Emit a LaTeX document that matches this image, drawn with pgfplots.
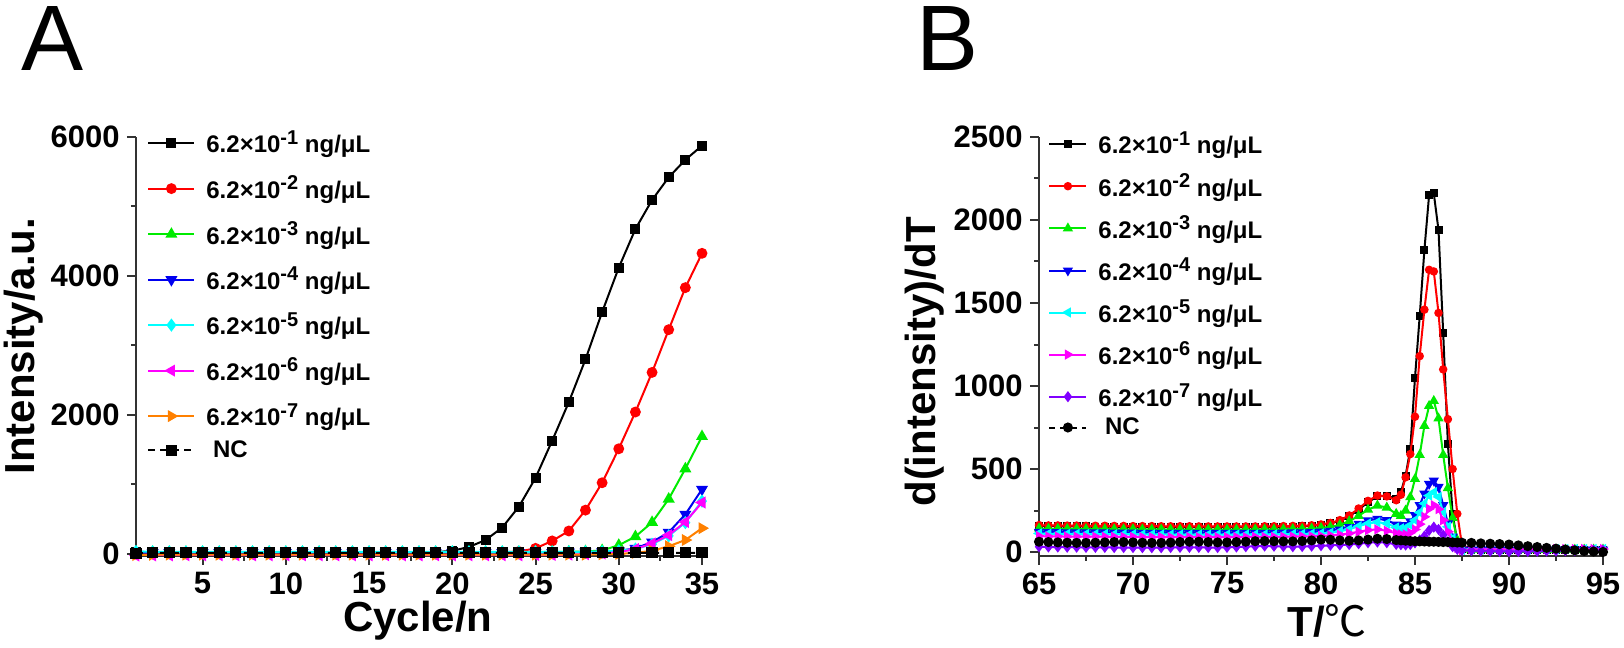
\documentclass[border=0pt]{standalone}
\usepackage{fontspec}
\setmainfont{Liberation Sans}
\newfontfamily\cjk{Noto Sans CJK SC}
\usepackage{pgfplots}
\usepackage{pgfplotstable}
\pgfplotsset{compat=1.18}
\definecolor{cgreen}{RGB}{0,235,0}
\definecolor{cblue}{RGB}{0,0,240}
\definecolor{ccyan}{RGB}{0,255,255}
\definecolor{cmag}{RGB}{255,0,255}
\definecolor{corange}{RGB}{255,128,0}
\definecolor{cviolet}{RGB}{128,0,255}
\newcommand\sups[1]{\raisebox{0.36em}{\fontsize{10}{10}\selectfont #1}}
\newcommand\conc[1]{6.2×10\sups{-#1} ng/μL}
\newcommand\nclab{\raisebox{-0.36em}[0pt][0pt]{\ NC}}

\pgfplotstableread{
c s1 s2 s3 s4 s5 s6 s7 nc
1 30 15 25 20 35 -25 -15 10
2 25 15 25 20 30 -22 -12 15
3 22 15 25 20 30 -20 -10 15
4 20 15 25 20 30 -20 -10 15
5 20 15 25 20 30 -20 -10 15
6 20 15 25 20 30 -20 -10 15
7 20 15 25 20 30 -20 -10 15
8 20 15 25 20 30 -20 -10 15
9 20 15 25 20 30 -20 -10 15
10 20 15 25 20 30 -20 -10 15
11 20 15 25 20 30 -20 -10 15
12 20 15 25 20 30 -20 -10 15
13 20 15 25 20 30 -20 -10 15
14 20 15 25 20 30 -20 -10 15
15 20 15 25 20 30 -20 -10 15
16 20 15 25 20 30 -20 -10 15
17 20 15 25 20 30 -20 -10 15
18 22 15 25 20 30 -20 -10 15
19 25 15 25 20 30 -20 -10 15
20 45 15 25 20 30 -20 -10 15
21 100 15 25 20 30 -20 -10 15
22 200 20 25 20 30 -20 -10 15
23 380 25 25 20 30 -20 -10 15
24 680 35 25 20 30 -20 -10 15
25 1094 80 25 20 30 -15 -10 15
26 1629 187 30 20 30 -15 -10 15
27 2184 330 30 25 30 -10 -10 15
28 2799 630 35 25 30 -5 -10 15
29 3480 1024 50 30 35 5 -5 15
30 4120 1513 125 45 45 25 0 15
31 4675 2042 250 80 70 70 15 15
32 5093 2612 454 170 140 150 45 15
33 5420 3227 790 310 260 270 110 15
34 5672 3832 1225 570 450 460 200 15
35 5875 4326 1690 930 760 740 370 15
}\tabA

\pgfplotstableread{
T s1 s2 s3 s4 s5 s6 s7 nc
65 158 162 142 122 112 96 32 62
65.5 156 160 140 120 110 94 30 60
66 155 160 140 120 110 94 30 58
66.5 155 159 139 119 109 93 29 56
67 154 159 139 119 109 93 29 55
67.5 154 158 138 118 108 92 28 55
68 153 158 138 118 108 92 28 56
68.5 153 158 138 118 108 92 28 58
69 152 157 137 117 107 91 27 60
69.5 152 157 137 117 107 91 27 60
70 152 156 137 117 107 91 27 58
70.5 151 156 136 116 106 90 26 56
71 151 156 136 116 106 90 26 55
71.5 151 155 136 116 106 90 26 55
72 150 155 135 115 105 90 27 57
72.5 150 155 135 115 105 90 28 60
73 150 155 135 115 105 90 28 62
73.5 150 154 135 115 105 90 28 62
74 150 154 135 115 105 90 27 60
74.5 150 154 135 115 105 90 27 58
75 150 154 135 115 105 90 28 58
75.5 150 154 135 115 105 90 30 60
76 150 154 135 115 105 90 32 62
76.5 150 154 136 116 106 91 35 65
77 151 155 136 116 106 91 36 66
77.5 151 155 136 116 106 91 35 65
78 152 156 137 117 107 92 33 64
78.5 153 157 138 118 108 93 32 64
79 155 158 139 119 109 94 33 66
79.5 158 161 141 120 110 95 35 70
80 163 166 145 123 112 97 38 75
80.5 172 175 151 127 116 100 40 74
81 188 192 163 135 124 105 42 70
81.5 215 220 185 150 137 112 45 68
82 255 262 218 170 155 122 50 70
82.5 300 308 255 190 172 132 56 75
83 335 340 280 200 180 136 60 80
83.5 340 335 268 192 172 128 56 78
84 320 312 230 165 148 112 46 72
84.25 360 345 218 158 142 106 44 70
84.5 460 450 250 162 144 106 42 68
84.75 620 590 330 185 162 116 45 66
85 1050 815 440 222 192 136 55 65
85.25 1420 1180 585 282 238 168 72 64
85.5 1820 1460 760 352 292 212 96 63
85.75 2150 1700 880 410 340 260 130 62
86 2160 1690 910 430 360 282 150 62
86.25 1940 1440 805 392 332 258 136 61
86.5 1320 1100 585 282 242 192 102 60
86.75 650 800 385 172 152 122 62 60
87 230 500 205 92 82 62 32 58
87.25 60 230 72 36 32 26 16 57
87.5 20 40 20 15 13 11 10 56
88 15 15 15 15 16 16 8 55
88.5 14 14 14 14 16 16 6 52
89 14 14 14 14 16 16 5 50
89.5 14 14 14 14 16 16 4 48
90 13 13 13 13 16 16 3 45
90.5 13 13 13 13 16 16 3 40
91 13 13 13 13 16 17 4 35
91.5 13 13 13 13 17 17 5 30
92 13 13 13 13 17 17 6 25
92.5 14 14 14 14 17 18 7 20
93 14 14 14 14 18 18 8 15
93.5 14 14 14 14 18 18 9 10
94 15 15 15 15 18 18 10 6
94.5 15 15 15 15 18 18 10 3
95 15 15 15 15 18 18 10 0
}\tabB

\pgfplotsset{
  myaxis/.style={
    scale only axis, height=209.5pt,
    axis x line=bottom, axis y line=left,
    axis line style={-, line width=1pt, black!80},
    tick align=outside, major tick length=4.5pt, minor tick length=2.5pt,
    every tick/.style={line width=1pt, black!80},
    minor tick num=1,
    tick label style={font=\bfseries\fontsize{15.5}{16}\selectfont, inner sep=3.5pt},
    /pgf/number format/assume math mode=true,
    /pgf/number format/set thousands separator={},
    label style={font=\bfseries\fontsize{21}{22}\selectfont},
    legend cell align=left,
    clip mode=individual,
  },
  legA/.style={legend image code/.code={\draw[mark repeat=2,mark phase=2,##1] plot coordinates {(0pt,0pt) (11.5pt,0pt) (23pt,0pt)};}},
  legB/.style={legend image code/.code={\draw[mark repeat=2,mark phase=2,##1] plot coordinates {(0pt,0pt) (9.25pt,0pt) (18.5pt,0pt)};}},
}

\begin{document}
\begin{tikzpicture}
\begin{pgfinterruptboundingbox}
\node[inner sep=0pt, font=\fontsize{46.5}{46.5}\selectfont] at (26.5pt,304.5pt) {A};
\node[inner sep=0pt, font=\fontsize{46.5}{46.5}\selectfont] at (473.75pt,304.5pt) {B};

\begin{axis}[myaxis, legA,
  at={(68pt,46pt)}, anchor=south west, width=283pt,
  xmin=1, xmax=35, ymin=-30, ymax=6000,
  xtick={5,10,...,35}, ytick={0,2000,4000,6000},
  xlabel={Cycle/n}, ylabel={Intensity/a.u.},
  xlabel style={at={(rel axis cs:0.498,-0.181)}, anchor=base},
  ylabel style={at={(rel axis cs:-0.199,0.501)}, anchor=center},
  legend style={at={(rel axis cs:0,1)}, anchor=north west, xshift=5.5pt, yshift=5.5pt,
    draw=none, fill=none, inner sep=0pt,
    font=\bfseries\fontsize{12}{12.5}\selectfont, row sep=6pt, column sep=3.5pt},
]
\addplot[black, line width=1pt, mark=square*, mark size=2pt] table[x=c,y=s1] {\tabA};
\addplot[red, line width=1pt, mark=*, mark size=2.2pt] table[x=c,y=s2] {\tabA};
\addplot[cgreen, line width=1pt, mark=triangle*, mark size=2.5pt] table[x=c,y=s3] {\tabA};
\addplot[cblue, line width=1pt, mark=triangle*, mark size=2.5pt, mark options={rotate=180}] table[x=c,y=s4] {\tabA};
\addplot[ccyan, line width=1pt, mark=diamond*, mark size=2.5pt] table[x=c,y=s5] {\tabA};
\addplot[cmag, line width=1pt, mark=triangle*, mark size=2.5pt, mark options={rotate=90}] table[x=c,y=s6] {\tabA};
\addplot[corange, line width=1pt, mark=triangle*, mark size=2.5pt, mark options={rotate=-90}] table[x=c,y=s7] {\tabA};
\addplot[black, line width=1pt, dash pattern=on 3.5pt off 2.5pt, mark=square*, mark size=2.3pt, mark options={solid}] table[x=c,y=nc] {\tabA};
\legend{\conc{1}, \conc{2}, \conc{3}, \conc{4}, \conc{5}, \conc{6}, \conc{7}, \nclab}
\end{axis}

\begin{axis}[myaxis, legB,
  at={(519.5pt,46pt)}, anchor=south west, width=282pt,
  xmin=65, xmax=95, ymin=-24, ymax=2500,
  xtick={65,70,...,95}, ytick={0,500,...,2500},
  xlabel={T/{\cjk\mdseries ℃}}, ylabel={d(intensity)/dT},
  xlabel style={at={(rel axis cs:0.511,-0.193)}, anchor=base},
  ylabel style={at={(rel axis cs:-0.202,0.463)}, anchor=center},
  legend style={at={(rel axis cs:0,1)}, anchor=north west, xshift=4.5pt, yshift=5pt,
    draw=none, fill=none, inner sep=0pt,
    font=\bfseries\fontsize{12}{12.5}\selectfont, row sep=4.3pt, column sep=3.5pt},
]
\addplot[black, line width=1pt, mark=square*, mark size=1.5pt] table[x=T,y=s1] {\tabB};
\addplot[red, line width=1pt, mark=*, mark size=1.6pt] table[x=T,y=s2] {\tabB};
\addplot[cgreen, line width=1pt, mark=triangle*, mark size=2pt] table[x=T,y=s3] {\tabB};
\addplot[cblue, line width=1pt, mark=triangle*, mark size=2pt, mark options={rotate=180}] table[x=T,y=s4] {\tabB};
\addplot[ccyan, line width=1pt, mark=triangle*, mark size=2pt, mark options={rotate=90}] table[x=T,y=s5] {\tabB};
\addplot[cmag, line width=1pt, mark=triangle*, mark size=2pt, mark options={rotate=-90}] table[x=T,y=s6] {\tabB};
\addplot[cviolet, line width=1pt, mark=diamond*, mark size=2pt] table[x=T,y=s7] {\tabB};
\addplot[black, line width=1pt, dash pattern=on 3pt off 2.5pt, mark=*, mark size=2pt, mark options={solid}] table[x=T,y=nc] {\tabB};
\legend{\conc{1}, \conc{2}, \conc{3}, \conc{4}, \conc{5}, \conc{6}, \conc{7}, \nclab}
\end{axis}
\end{pgfinterruptboundingbox}
\useasboundingbox (0,0) rectangle (812pt,324pt);
\end{tikzpicture}
\end{document}
